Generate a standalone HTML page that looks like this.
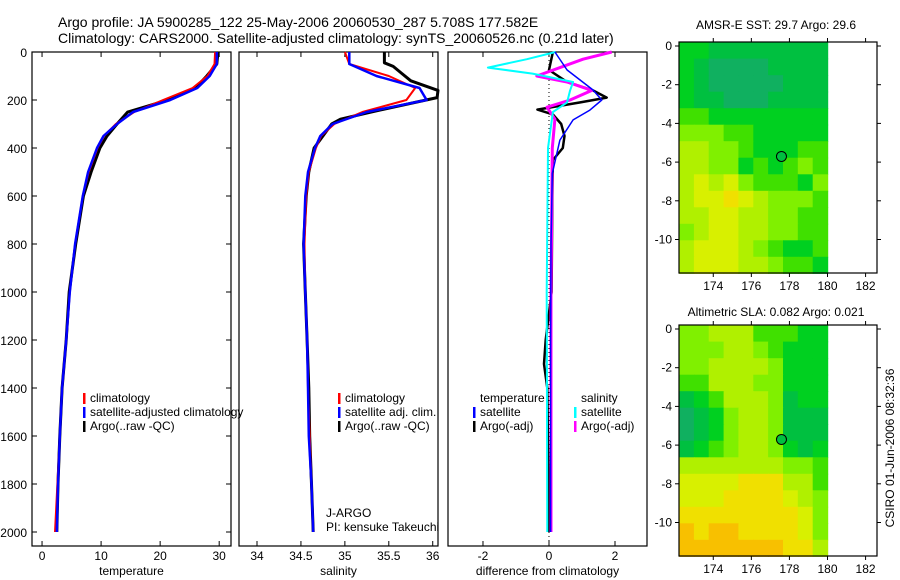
<!DOCTYPE html>
<html><head><meta charset="utf-8">
<style>
html,body{margin:0;padding:0;background:#fff;}
svg{display:block;font-family:"Liberation Sans",sans-serif;}
</style></head>
<body>
<svg id="fig" width="900" height="580" viewBox="0 0 900 580">
<text x="58" y="27" font-size="14">Argo profile: JA 5900285_122 25-May-2006 20060530_287 5.708S 177.582E</text>
<text x="58" y="43" font-size="14">Climatology: CARS2000. Satellite-adjusted climatology: synTS_20060526.nc (0.21d later)</text>
<text x="776" y="29" font-size="12" text-anchor="middle">AMSR-E SST: 29.7 Argo: 29.6</text>
<text x="776" y="316" font-size="12" text-anchor="middle">Altimetric SLA: 0.082 Argo: 0.021</text>
<text transform="translate(894,448) rotate(-90)" font-size="12" text-anchor="middle">CSIRO 01-Jun-2006 08:32:36</text>
<g id="plots"></g>
</svg>
<script>
// ---- depth profile data ----
const depths = [0,50,100,150,200,250,300,350,400,500,600,800,1000,1200,1400,1600,1800,2000];
const tempClim = [29.3,29.2,28.0,25.5,20.5,15.6,12.5,10.5,9.4,7.9,6.9,5.6,4.7,4.1,3.4,3.0,2.6,2.2];
const tempSat  = [29.6,29.6,28.4,26.3,21.7,15.4,12.7,10.4,9.3,7.8,6.9,5.6,4.7,4.1,3.4,3.0,2.7,2.5];
const tempArgo = [29.8,29.6,27.9,26.0,21.3,14.5,12.7,11.0,9.8,8.3,7.0,5.7,4.6,4.1,3.4,3.0,2.7,2.5];
const salClim  = [35.0,35.05,35.5,35.8,35.7,35.2,34.88,34.73,34.67,34.59,34.56,34.54,34.55,34.57,34.58,34.6,34.62,34.64];
const salSat   = [35.05,35.05,35.36,35.85,35.93,35.25,34.86,34.72,34.66,34.58,34.55,34.53,34.55,34.57,34.58,34.59,34.62,34.64];
const salArgoD = [0,45,60,90,120,160,190,210,250,280,300,400,500,600,800,1000,1200,1400,1600,1800,2000];
const salArgo  = [35.45,35.45,35.55,35.65,35.75,36.06,36.05,35.8,35.3,34.95,34.85,34.65,34.59,34.56,34.53,34.55,34.57,34.59,34.6,34.62,34.64];
// ---- difference data ----
const dTempSatD = [0,75,158,200,242,283,367,506,800,1200,1600,2000];
const dTempSat  = [0.18,0.55,1.33,1.6,1.24,0.73,0.33,0.1,0.06,0.05,0.05,0.05];
const dTempArgoD = [0,75,125,160,190,210,240,260,300,350,400,450,600,1000,1200,1300,1400,2000];
const dTempArgo  = [0.12,0.0,0.55,1.33,1.75,0.95,-0.35,0.12,0.37,0.47,0.42,0.12,0.1,0.08,-0.1,-0.15,-0.05,0.0];
const dSalSatD = [0,30,65,90,125,160,210,250,400,1000,2000];
const dSalSat  = [0.2,-0.67,-1.85,-0.5,0.73,0.64,0.55,0.12,-0.03,-0.07,-0.05];
const dSalArgoD = [0,30,100,125,160,200,230,280,400,1000,2000];
const dSalArgo  = [1.9,1.03,-0.37,0.55,1.3,0.64,-0.06,0.18,0.1,0.06,0.06];
const depthTicks = [0,200,400,600,800,1000,1200,1400,1600,1800,2000];
const tempTicks = [0,10,20,30];
const salTicks = [34,34.5,35,35.5,36];
const diffTicks = [-2,0,2];
// ---- map data (palette index per cell, rows north->south) ----
const sstGrid = ["3322222222","3211112222","3211111222","3221112222","4433333333","5554433333","6655433344","6655343454","6767544435","6778765554","6677665544","5677665544","6777654334","6777665443"];
const slaGrid = ["5566644433","5556654333","5566665333","4466655333","2346665233","1235665222","1235665222","2345665323","6666666554","7777888664","7778888765","8888888875","9899888875","9999999886"];
const lonTicks = [174,176,178,180,182];
const latTicks = [0,-2,-4,-6,-8,-10];
const argoLon = 177.582, argoLat = -5.708;

const NS="http://www.w3.org/2000/svg";
const root=document.getElementById('plots');
function mk(tag,attrs,parent){const e=document.createElementNS(NS,tag);for(const k in attrs)e.setAttribute(k,attrs[k]);(parent||root).appendChild(e);return e;}
const yD = d => 52 + d*0.24;

function panel(name,x0,x1,xmin,xmax,xticks,xlabel,showY){
  const g=mk('g',{});
  
  
  const sx=v=>x0+(v-xmin)/(xmax-xmin)*(x1-x0);
  const fr=mk('rect',{x:x0,y:52,width:x1-x0,height:494,fill:'none',stroke:'#000','stroke-width':1.2},g);
  
  
  xticks.forEach(t=>{
    const x=sx(t);
    mk('line',{x1:x,x2:x,y1:52,y2:57,stroke:'#000'},g);
    mk('line',{x1:x,x2:x,y1:546,y2:541,stroke:'#000'},g);
    const tx=mk('text',{x:x,y:560,'font-size':12,'text-anchor':'middle'},g);
    tx.textContent=String(t);
    
    
  });
  const lb=mk('text',{x:(x0+x1)/2,y:575,'font-size':12,'text-anchor':'middle'},g);
  lb.textContent=xlabel;
  
  
  if(showY){
    depthTicks.forEach(d=>{
      const y=yD(d);
      mk('line',{x1:x0,x2:x0+5,y1:y,y2:y,stroke:'#000'},g);
      mk('line',{x1:x1,x2:x1-5,y1:y,y2:y,stroke:'#000'},g);
      const t=mk('text',{x:27,y:y+5,'font-size':12,'text-anchor':'end'},g);
      t.textContent=String(d);
      
      
    });
  }
  return {g,sx};
}
function line(p,xs,ds,color,w,name){
  const pts=xs.map((v,i)=>p.sx(v).toFixed(1)+','+yD(ds[i]).toFixed(1)).join(' ');
  const pl=mk('polyline',{points:pts,fill:'none',stroke:color,'stroke-width':w,'stroke-linejoin':'round'},p.g);
  
  
}
function legend(g,x,y,items,name){
  const lg=mk('g',{},g);
  
  
  items.forEach((it,i)=>{
    if(it[1]) mk('rect',{x:x,y:y+i*14-9,width:2.5,height:11,fill:it[1]},lg);
    const t=mk('text',{x:x+7,y:y+i*14,'font-size':12},lg);
    t.textContent=it[0];
    
    
  });
}
// Panel 1: temperature
const p1=panel('temperature-panel',32,231,-1.7,32,tempTicks,'temperature',true);
line(p1,tempArgo,depths,'#000',3,'temp-argo-line');
line(p1,tempClim,depths,'#f00',2,'temp-climatology-line');
line(p1,tempSat,depths,'#00f',2.5,'temp-satellite-line');
legend(p1.g,83,402,[['climatology','#f00'],['satellite-adjusted climatology','#00f'],['Argo(..raw -QC)','#000']],'temperature-legend');
// Panel 2: salinity
const p2=panel('salinity-panel',239,438,33.795,36.06,salTicks,'salinity',false);
line(p2,salArgo,salArgoD,'#000',3,'sal-argo-line');
line(p2,salClim,depths,'#f00',2,'sal-climatology-line');
line(p2,salSat,depths,'#00f',2.5,'sal-satellite-line');
legend(p2.g,338,402,[['climatology','#f00'],['satellite adj. clim.','#00f'],['Argo(..raw -QC)','#000']],'salinity-legend');
const j1=mk('text',{x:326,y:517,'font-size':12},p2.g); j1.textContent='J-ARGO';


const j2=mk('text',{x:326,y:531,'font-size':12},p2.g); j2.textContent='PI: kensuke Takeuchi';


// Panel 3: differences
const p3=panel('difference-panel',448,647,-3.06,2.97,diffTicks,'difference from climatology',false);
const zl=mk('line',{x1:p3.sx(0),x2:p3.sx(0),y1:52,y2:546,stroke:'#000','stroke-dasharray':'1,3'},p3.g);


line(p3,dTempArgo,dTempArgoD,'#000',2.5,'diff-temp-argo-line');
line(p3,dSalArgo,dSalArgoD,'#f0f',3,'diff-sal-argo-line');
line(p3,dSalSat,dSalSatD,'#0ff',2,'diff-sal-satellite-line');
line(p3,dTempSat,dTempSatD,'#00f',1.5,'diff-temp-satellite-line');
legend(p3.g,473,402,[['temperature',null],['satellite','#00f'],['Argo(-adj)','#000']],'diff-temp-legend');
legend(p3.g,574,402,[['salinity',null],['satellite','#0ff'],['Argo(-adj)','#f0f']],'diff-sal-legend');

// Maps
const palette=['#20a080','#10b060','#00c040','#00d020','#40e000','#80f000','#b0f000','#d8f000','#f0e000','#f8c000'];
function map(name,top,bottom,lat0y,grid){
  const g=mk('g',{});
  
  
  const x0=679,x1=877,lonMin=172.2,lonMax=182.6;
  const sx=v=>x0+(v-lonMin)/(lonMax-lonMin)*(x1-x0);
  const pxLat=19.35;
  const sy=v=>lat0y-v*pxLat;
  const latTop=0.2,latBot=-11.75,lonEnd=180;
  const nr=grid.length,nc=grid[0].length;
  const dLat=(latTop-latBot)/nr,dLon=(lonEnd-lonMin)/nc;
  for(let r=0;r<nr;r++)for(let c=0;c<nc;c++){
    const v=+grid[r][c];
    const ya=sy(latTop-r*dLat),yb=sy(latTop-(r+1)*dLat);
    const xa=sx(lonMin+c*dLon),xb=sx(lonMin+(c+1)*dLon);
    const cell=mk('rect',{x:xa.toFixed(1),y:ya.toFixed(1),width:(xb-xa+0.6).toFixed(1),height:(yb-ya+0.6).toFixed(1),fill:palette[v]},g);
    
    
  }
  const fr=mk('rect',{x:x0,y:top,width:x1-x0,height:bottom-top,fill:'none',stroke:'#000','stroke-width':1.2},g);
  
  
  lonTicks.forEach(t=>{
    const x=sx(t);
    mk('line',{x1:x,x2:x,y1:top,y2:top-4,stroke:'#000'},g);
    mk('line',{x1:x,x2:x,y1:bottom,y2:bottom+4,stroke:'#000'},g);
    const tx=mk('text',{x:x,y:bottom+17,'font-size':12,'text-anchor':'middle'},g);
    tx.textContent=String(t);
    
    
  });
  latTicks.forEach(t=>{
    const y=sy(t);
    mk('line',{x1:x0,x2:x0-4,y1:y,y2:y,stroke:'#000'},g);
    mk('line',{x1:x1,x2:x1+4,y1:y,y2:y,stroke:'#000'},g);
    const tx=mk('text',{x:672,y:y+4,'font-size':12,'text-anchor':'end'},g);
    tx.textContent=String(t);
    
    
  });
  const m=mk('circle',{cx:sx(argoLon),cy:sy(argoLat),r:5,fill:'#00c040',stroke:'#000','stroke-width':1},g);
  
  
}
map('sst-map',42,273,46,sstGrid);
map('sla-map',325,556,329,slaGrid);
</script>
</body></html>
